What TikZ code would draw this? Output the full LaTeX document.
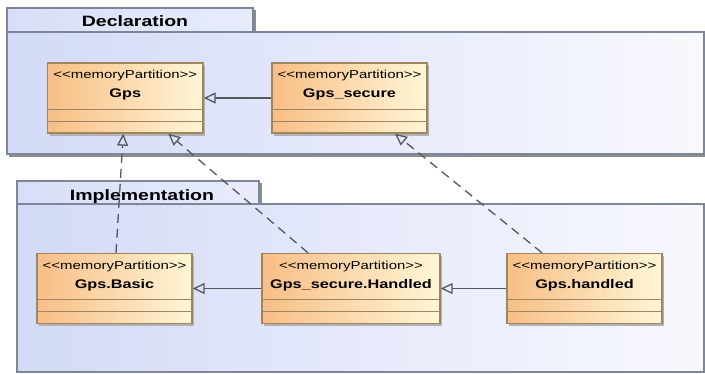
\documentclass[tikz,border=0pt]{standalone}
\usepackage{fontspec}
\newfontfamily\umlfont[FakeStretch=1.3]{Liberation Sans}
\usetikzlibrary{arrows.meta,calc}
\definecolor{pkgedge}{HTML}{7E879A}
\definecolor{pkgleft}{HTML}{D3DAF7}
\definecolor{pkgright}{HTML}{F8F9FE}
\definecolor{tabl}{HTML}{D8DEF8}
\definecolor{tabr}{HTML}{E8ECFB}
\definecolor{clsleft}{HTML}{F8BE86}
\definecolor{clsright}{HTML}{FFF6D6}
\definecolor{clsedge}{HTML}{A08660}
\definecolor{conn}{HTML}{55585E}
\newcommand\mkclass[4]{%
  \fill[black!30] ($(#2)+(-#3/2+2,-33)$) rectangle ($(#2)+(#3/2+2,37.5)$);
  \node[cls, minimum width=#3pt] (#1) at (#2) {};
  \node[stereo] (#1-st) at ($(#1.north)+(0,16.5)$) {\textless\textless memoryPartition\textgreater\textgreater};
  \node[cname] (#1-nm) at ($(#1.north)+(0,35.5)$) {#4};
  \draw[clsedge, line width=1.1pt] ($(#1.north west)+(0,47)$) -- ($(#1.north east)+(0,47)$);
  \draw[clsedge, line width=1.1pt] ($(#1.north west)+(0,59)$) -- ($(#1.north east)+(0,59)$);
}
\begin{document}
\begin{tikzpicture}[x=1pt,y=-1pt,
  cls/.style={draw=clsedge, line width=1.4pt, left color=clsleft, right color=clsright,
    minimum height=70pt, inner sep=0pt},
  stereo/.style={font=\umlfont\fontsize{11.5}{12}\selectfont, anchor=base, inner sep=0pt},
  cname/.style={font=\umlfont\fontsize{12.5}{13}\selectfont\bfseries, anchor=base, inner sep=0pt},
  ptitle/.style={font=\umlfont\fontsize{15}{16}\selectfont\bfseries, anchor=base, inner sep=0pt},
  pedge/.style={draw=pkgedge, line width=1.2pt},
  gen/.style={draw=conn, line width=1.3pt, -{Triangle[open,length=12pt,width=11pt]}},
  dgen/.style={gen, dash pattern=on 9pt off 6pt}
]
\useasboundingbox (0,0) rectangle (705,373);
% ---- Declaration package
\fill[black!45] (9,154) rectangle (705,156.5);
\fill[black!45] (253,10) rectangle (255.5,32);
\shade[left color=pkgleft,right color=pkgright] (7,32) rectangle (704,154);
\shade[left color=tabl,right color=tabr] (7,8) rectangle (253,32);
\draw[pedge] (7,8) rectangle (253,32);
\draw[pedge] (7,32) rectangle (704,154);
\node[ptitle] (decl) at (135,26) {Declaration};
% ---- Implementation package
\fill[black!45] (259,183) rectangle (261.5,204);
\shade[left color=pkgleft,right color=pkgright] (17,204) rectangle (704,372);
\shade[left color=tabl,right color=tabr] (17,181) rectangle (259,204);
\draw[pedge] (17,181) rectangle (259,204);
\draw[pedge] (17,204) rectangle (704,372);
\node[ptitle] (impl) at (142,200) {Implementation};
% ---- classes
\mkclass{gps}{125.25,98}{155.5}{Gps}
\mkclass{gpssec}{349.5,98}{155}{Gps\_secure}
\mkclass{basic}{114.5,288.5}{155}{Gps.Basic}
\mkclass{sechandled}{351,288.5}{178}{Gps\_secure.Handled}
\mkclass{handled}{584.5,288.5}{155}{Gps.handled}
% ---- generalizations
\draw[gen] (gpssec.west) -- (gps.east);
\draw[gen] (sechandled.west) -- (basic.east);
\draw[gen] (handled.west) -- (sechandled.east);
\draw[dgen] ($(basic.north)+(1.5,0)$) -- ($(gps.south)+(-2,0)$);
\draw[dgen] ($(sechandled.north)+(-43,0)$) -- ($(gps.south)+(43,0)$);
\draw[dgen] ($(handled.north)+(-42.5,0)$) -- ($(gpssec.south)+(45.5,0)$);
\end{tikzpicture}
\end{document}
